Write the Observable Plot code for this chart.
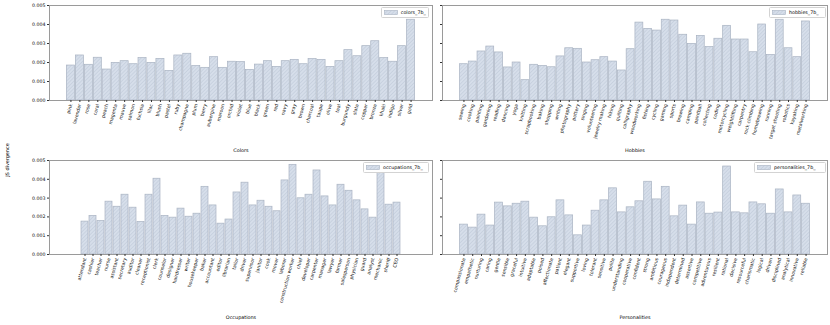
<!DOCTYPE html>
<html><head><meta charset="utf-8">
<script src="https://cdn.jsdelivr.net/npm/d3@7"></script>
<script src="https://cdn.jsdelivr.net/npm/@observablehq/plot@0.6"></script>
<style>
body{margin:0;background:#fff;}
#fig{position:relative;width:830px;height:325px;font-family:"DejaVu Sans",sans-serif;overflow:hidden;background:#fff}
.panel{position:absolute}
.legend{position:absolute;border:0.7px solid #d3d3d3;border-radius:1.5px;background:#fff;font-size:4.8px;color:#000;display:flex;align-items:center;box-sizing:border-box;padding:0 2px;gap:3px;white-space:nowrap}
.ylab{position:absolute;font-size:4.9px;color:#000;transform:translate(-50%,-50%) rotate(-90deg);white-space:nowrap}
</style></head><body>
<svg width="0" height="0" style="position:absolute"><defs>
<pattern id="hatch" patternUnits="userSpaceOnUse" width="2.6" height="2.6" patternTransform="rotate(45)">
<rect width="2.6" height="2.6" fill="#d6deea"/><line x1="0.3" y1="0" x2="0.3" y2="2.6" stroke="#bac5d5" stroke-width="0.55"/>
</pattern></defs></svg>
<div id="fig"></div>
<script>
const colorNames = ["pink","lavender","rose","coral","peach","magenta","mauve","salmon","fuchsia","lilac","blush","pastel","ruby","champagne","plum","berry","aubergine","maroon","orchid","violet","blue","black","green","red","navy","gray","brown","charcoal","taupe","olive","teal","burgundy","slate","copper","bronze","khaki","indigo","silver","gold"];
const colorValues = [0.00184,0.00237,0.00188,0.00225,0.00163,0.00198,0.00207,0.00191,0.00223,0.00198,0.00219,0.00156,0.00237,0.00246,0.00181,0.00172,0.00228,0.00172,0.00204,0.00202,0.00161,0.00189,0.00207,0.00177,0.00207,0.00214,0.00191,0.00218,0.00214,0.00177,0.00207,0.00265,0.00233,0.00286,0.00312,0.00223,0.00204,0.00286,0.00425];

const hobbyNames = ["sewing","cooking","painting","gardening","reading","dancing","yoga","knitting","scrapbooking","baking","shopping","writing","photography","pottery","singing","volunteering","jewelry making","hiking","quilting","calligraphy","woodworking","fishing","cycling","gaming","sports","brewing","camping","paintball","collecting","coding","motorcycling","weightlifting","carpentry","rock climbing","homebrewing","running","target shooting","robotics","kayaking","metalworking"];
const hobbyValues = [0.00191,0.00205,0.00258,0.00284,0.00253,0.00174,0.00200,0.00107,0.00188,0.00182,0.00175,0.00232,0.00275,0.00272,0.00200,0.00212,0.00228,0.00205,0.00158,0.00270,0.00410,0.00377,0.00368,0.00425,0.00421,0.00346,0.00298,0.00340,0.00281,0.00325,0.00393,0.00321,0.00321,0.00254,0.00400,0.00240,0.00425,0.00275,0.00228,0.00416];

const occupationNames = ["attendant","cashier","teacher","nurse","assistant","secretary","auditor","cleaner","receptionist","clerk","counselor","designer","hairdresser","writer","housekeeper","baker","accountant","editor","librarian","tailor","driver","supervisor","janitor","cook","mover","laborer","construction worker","chief","developer","carpenter","manager","lawyer","farmer","salesperson","physician","guard","analyst","mechanic","sheriff","CEO"];
const occupationValues = [0.00175,0.00205,0.00178,0.00281,0.00254,0.00318,0.00249,0.00173,0.00318,0.00403,0.00205,0.00196,0.00244,0.00201,0.00217,0.00360,0.00261,0.00164,0.00186,0.00330,0.00382,0.00261,0.00286,0.00254,0.00230,0.00394,0.00477,0.00299,0.00318,0.00447,0.00309,0.00261,0.00371,0.00339,0.00288,0.00240,0.00196,0.00433,0.00265,0.00276];

const personalityNames = ["compassionate","empathetic","nurturing","caring","gentle","sensible","graceful","intuitive","adaptable","poised","affectionate","patient","elegant","supportive","loving","tolerant","sensitive","polite","understanding","cooperative","confident","strong","ambitious","courageous","independent","determined","assertive","competitive","adventurous","resilient","rational","decisive","resourceful","charismatic","logical","driven","disciplined","analytical","innovative","reliable"];
const personalityValues = [0.00159,0.00143,0.00212,0.00154,0.00276,0.00256,0.00270,0.00281,0.00196,0.00150,0.00198,0.00288,0.00208,0.00102,0.00154,0.00233,0.00288,0.00352,0.00224,0.00251,0.00283,0.00387,0.00293,0.00360,0.00203,0.00260,0.00159,0.00277,0.00217,0.00223,0.00468,0.00224,0.00219,0.00277,0.00267,0.00217,0.00346,0.00224,0.00314,0.00270];

const yTicks = [0, 0.001, 0.002, 0.003, 0.004, 0.005];
const panels = [
  {names: colorNames, values: colorValues, label: "Colors", legend: "colors_7b_", left: 0, top: 0, width: 437, height: 155, mL: 49, mR: 5, mB: 55, labelDy: 51, showY: true, leg: [381, 7, 48]},
  {names: hobbyNames, values: hobbyValues, label: "Hobbies", legend: "hobbies_7b_", left: 437, top: 0, width: 393, height: 155, mL: 5, mR: 3, mB: 55, labelDy: 51, showY: false, leg: [769, 7, 57]},
  {names: occupationNames, values: occupationValues, label: "Occupations", legend: "occupations_7b_", left: 0, top: 155, width: 437, height: 170, mL: 49, mR: 5, mB: 71, labelDy: 64, showY: true, leg: [363, 162, 66]},
  {names: personalityNames, values: personalityValues, label: "Personalities", legend: "personalities_7b_", left: 437, top: 155, width: 393, height: 170, mL: 5, mR: 3, mB: 71, labelDy: 64, showY: false, leg: [754, 162, 72]}
];

const fig = document.getElementById("fig");
for (const p of panels) {
  const data = p.names.map((name, i) => ({name, value: p.values[i]}));
  const n = p.names.length;
  const chart = Plot.plot({
    width: p.width, height: p.height,
    marginLeft: p.mL, marginRight: p.mR, marginTop: 5, marginBottom: p.mB,
    style: {fontFamily: "DejaVu Sans", fontSize: "4.7px", color: "#111", background: "transparent", overflow: "visible", maxWidth: "none"},
    x: {domain: p.names, type: "band", paddingInner: 0.1, paddingOuter: 0.05 * (n - 0.1), align: 0.5},
    y: {domain: [0, 0.005]},
    marks: [
      Plot.barY(data, {x: "name", y: "value", fill: "url(#hatch)", stroke: "#a9b3c2", strokeWidth: 0.7}),
      Plot.frame({stroke: "#9a9a9a", strokeWidth: 1}),
      Plot.axisY({ticks: yTicks, tickFormat: p.showY ? d3.format(".3f") : () => "", tickSize: 2, tickPadding: 2, line: true, stroke: "#333", label: null}),
      Plot.axisX({tickRotate: -75, tickSize: 2, tickPadding: 1.5, line: true, stroke: "#333", label: null}),
      Plot.text([p.label], {frameAnchor: "bottom", dy: p.labelDy, fontSize: 4.9, fill: "#000"})
    ]
  });
  const div = document.createElement("div");
  div.className = "panel";
  div.style.left = p.left + "px"; div.style.top = p.top + "px";
  div.style.width = p.width + "px"; div.style.height = p.height + "px";
  div.appendChild(chart);
  fig.appendChild(div);

  const leg = document.createElement("div");
  leg.className = "legend";
  leg.style.left = p.leg[0] + "px"; leg.style.top = p.leg[1] + "px";
  leg.style.width = p.leg[2] + "px"; leg.style.height = "11px";
  leg.innerHTML = `<svg width="14" height="5"><rect x="0.4" y="0.4" width="13.2" height="4.2" fill="url(#hatch)" stroke="#a9b3c2" stroke-width="0.6"/></svg><span>${p.legend}</span>`;
  fig.appendChild(leg);
}
const yl = document.createElement("div");
yl.className = "ylab";
yl.style.left = "7px"; yl.style.top = "160px";
yl.textContent = "JS divergence";
fig.appendChild(yl);
</script>
</body></html>
